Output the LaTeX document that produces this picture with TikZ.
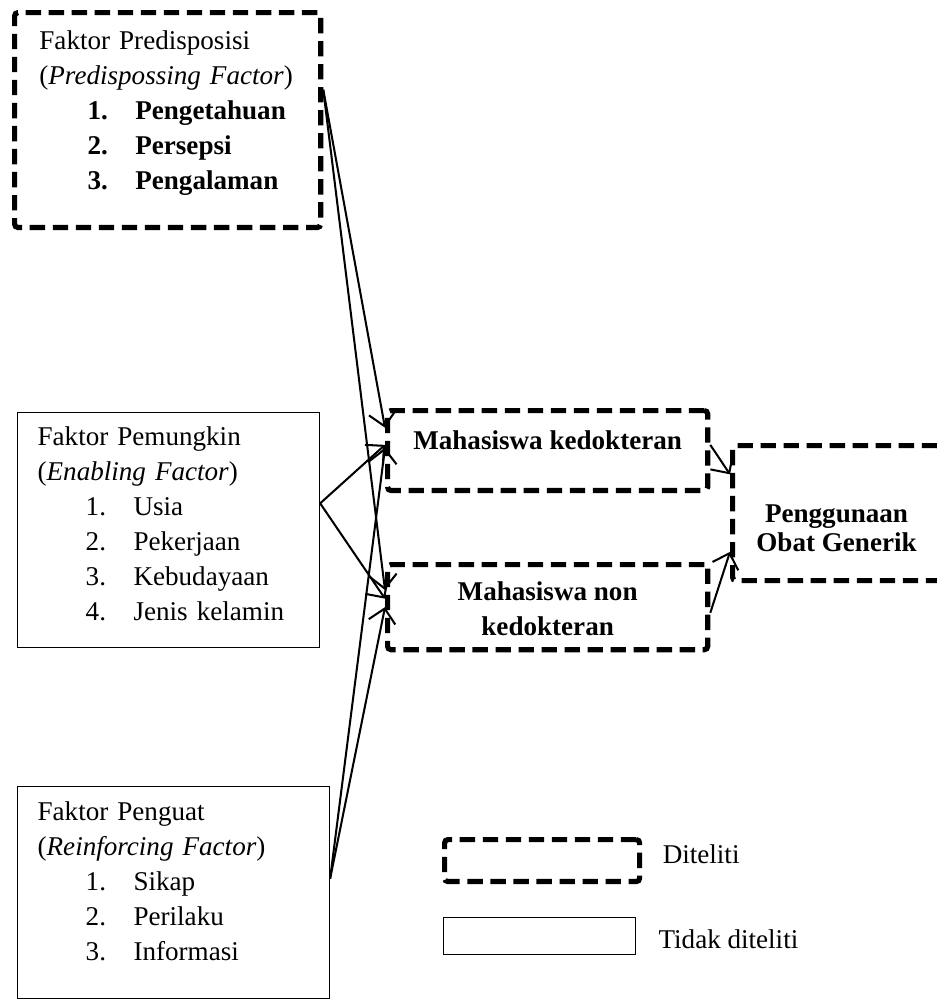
\documentclass[tikz,border=0pt]{standalone}
\usepackage{fontspec}
\setmainfont{Liberation Serif}
\usetikzlibrary{positioning, arrows.meta}
\tikzset{
  studied/.style={
    rectangle,
    draw=black, line width=2.3pt,
    dash pattern=on 6.8pt off 3.4pt,
    rounded corners=1.5pt,
    inner sep=0pt,
    font=\fontsize{12pt}{15.5pt}\selectfont
  },
  notstudied/.style={
    rectangle,
    draw=black, line width=0.5pt,
    inner sep=0pt,
    font=\fontsize{12pt}{15.5pt}\selectfont
  },
  factor/.style={
    align=left,
    anchor=north west
  },
  legend/.style={
    font=\fontsize{12pt}{15.5pt}\selectfont,
    inner sep=4pt
  },
  arrow/.style={
    draw=black,
    line width=0.9pt,
    -{Straight Barb[length=6pt,width=12pt]}
  }
}
\newcommand*\itm[2]{\hspace*{21.3pt}\makebox[21.2pt][l]{#1}#2}

\begin{document}
\begin{tikzpicture}[x=0.443pt, y=-0.443pt]
\useasboundingbox (0,0) rectangle (937,1000);
% nodes
\node[studied, factor, minimum width=135.6pt, minimum height=95.2pt,
      inner xsep=11pt, text width=113.6pt] (pred) at (12,10)
{ \begin{tabular}{@{}l@{}}
    Faktor Predisposisi\\
    (\textit{Predispossing Factor})\\
    \itm{\textbf{1.}}{\textbf{Pengetahuan}}\\
    \itm{\textbf{2.}}{\textbf{Persepsi}}\\
    \itm{\textbf{3.}}{\textbf{Pengalaman}}\\[6.6pt]
  \end{tabular}
};

\node[notstudied, factor, minimum width=133.8pt, minimum height=104.1pt,
      inner xsep=8.9pt, text width=116pt] (enab) at (17,412)
{ \begin{tabular}{@{}l@{}}
    Faktor Pemungkin\\
    (\textit{Enabling Factor})\\
    \itm{1.}{Usia}\\
    \itm{2.}{Pekerjaan}\\
    \itm{3.}{Kebudayaan}\\
    \itm{4.}{Jenis kelamin}\\[3.6pt]
  \end{tabular}
};

\node[notstudied, factor, minimum width=138.2pt, minimum height=93.9pt,
      inner xsep=8.9pt, text width=120.4pt] (reinf) at (17,786)
{ \begin{tabular}{@{}l@{}}
    Faktor Penguat\\
    (\textit{Reinforcing Factor})\\
    \itm{1.}{Sikap}\\
    \itm{2.}{Perilaku}\\
    \itm{3.}{Informasi}\\[7.9pt]
  \end{tabular}
};

\node[studied, minimum width=141.8pt, minimum height=35.4pt, anchor=north west] (kedok) at (385,408)
{ \begin{tabular}{@{}c@{}}
    \textbf{Mahasiswa kedokteran}\\[7pt]
  \end{tabular}
};

\node[studied, minimum width=141.8pt, minimum height=37.7pt, anchor=north west] (nonkedok) at (385,562)
{ \begin{tabular}{@{}c@{}}
    \rule{0pt}{14.4pt}\textbf{Mahasiswa non}\\
    \textbf{kedokteran}
  \end{tabular}
};

\node[studied, minimum width=92.1pt, minimum height=59.8pt, anchor=north west] (obat) at (730,443)
{ \def\arraystretch{0.83}%
  \begin{tabular}{@{}c@{}}
    \rule{0pt}{25pt}\textbf{Penggunaan}\\
    \textbf{Obat Generik}
  \end{tabular}
};

% legend
\node[studied, minimum width=86.4pt, minimum height=18.6pt, anchor=north west] (legstudied) at (442,837) {};
\node[notstudied, minimum width=85.1pt, minimum height=16.4pt, anchor=north west] (legnot) at (443,917) {};
\node[legend, right = 4.9pt of legstudied, yshift=2.6pt] (legstudiedtxt) {Diteliti};
\node[legend, right = 5.7pt of legnot, yshift=-1.5pt] (legnottxt) {Tidak diteliti};

% edges
%% factors
\draw [arrow] (pred.11) -- (kedok.172);
\draw [arrow] (pred.11) -- (nonkedok.174);
\draw [arrow] (enab.10) -- (kedok.178);
\draw [arrow] (enab.10) -- (nonkedok.177);
\draw [arrow] (reinf.5) -- (kedok.179);
\draw [arrow] (reinf.5) -- (nonkedok.west);

%% mahasiswa
\draw [arrow] (kedok.2) -- (obat.160);
\draw [arrow] (nonkedok.-2) -- (obat.200);

\end{tikzpicture}
\end{document}
